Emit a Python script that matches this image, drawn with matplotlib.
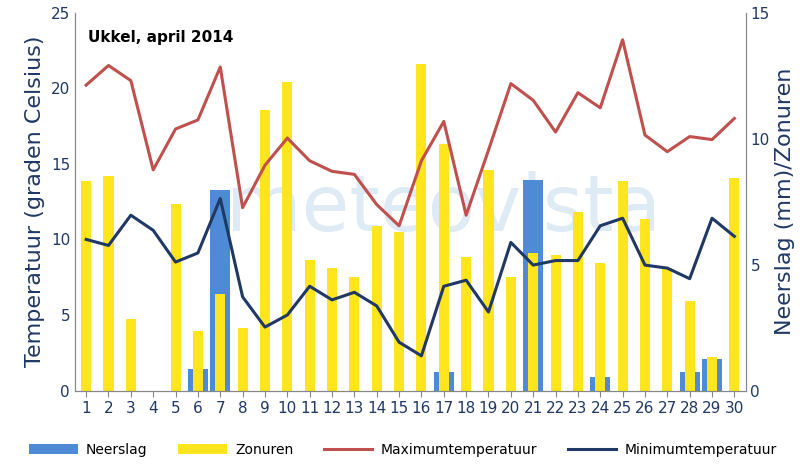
import numpy as np
import matplotlib.pyplot as plt

days = list(range(1, 31))
zonuren = [8.3, 8.5, 2.85, 0, 7.4, 2.35, 3.85, 2.5, 11.15, 12.25, 5.2, 4.85, 4.5, 6.55, 6.3,
           12.95, 9.8, 5.3, 8.75, 4.5, 5.45, 5.4, 7.1, 5.05, 8.3, 6.8, 4.85, 3.55, 1.35, 8.45]
neerslag = [0, 0, 0, 0, 0, 0.85, 7.95, 0, 0, 0, 0, 0, 0, 0, 0,
            0, 0.75, 0, 0, 0, 8.35, 0, 0, 0.55, 0, 0, 0, 0.75, 1.25, 0]
tmax = [20.2, 21.5, 20.5, 14.6, 17.3, 17.9, 21.4, 12.1, 14.9, 16.7, 15.2, 14.5, 14.3, 12.3, 10.9,
        15.2, 17.8, 11.6, 15.9, 20.3, 19.2, 17.1, 19.7, 18.7, 23.2, 16.9, 15.8, 16.8, 16.6, 18.0]
tmin = [10.0, 9.6, 11.6, 10.6, 8.5, 9.1, 12.7, 6.2, 4.2, 5.0, 6.9, 6.0, 6.5, 5.6, 3.2,
        2.3, 6.9, 7.3, 5.2, 9.8, 8.3, 8.6, 8.6, 10.9, 11.4, 8.3, 8.1, 7.4, 11.4, 10.2]

navy = "#1F3864"
fig = plt.figure(figsize=(8.06, 4.65), dpi=100)
ax = fig.add_axes([0.093, 0.16, 0.832, 0.813])
ax2 = ax.twinx()
ax.set_zorder(2); ax.patch.set_visible(False)
ax2.patch.set_visible(False)

x = np.array(days)
ax2.bar(x, neerslag, width=0.9, color="#4F8AD6", label="Neerslag", zorder=1)
ax2.bar(x, zonuren, width=0.45, color="#FFE51E", label="Zonuren", zorder=2)
ax.plot(x, tmax, color="#C0504D", lw=2.2, label="Maximumtemperatuur")
ax.plot(x, tmin, color=navy, lw=2.2, label="Minimumtemperatuur")

fig.text(0.55, 0.55, "meteovista", fontsize=56, color="#C8DCEE", alpha=0.6,
         ha="center", va="center", zorder=-5)

ax.set_xlim(0.5, 30.5)
ax.set_ylim(0, 25)
ax2.set_ylim(0, 15)
ax.set_xticks(days)
ax.set_yticks(range(0, 26, 5))
ax2.set_yticks([0, 5, 10, 15])
for a in (ax, ax2):
    a.tick_params(colors=navy, labelsize=11, length=0)
    a.spines["top"].set_visible(False)
    for s in ("left", "right", "bottom"):
        a.spines[s].set_color("#888888")
ax.tick_params(axis="x", length=4, colors="#888888", labelcolor=navy)
ax.set_ylabel("Temperatuur (graden Celsius)", fontsize=16, color=navy)
ax2.set_ylabel("Neerslag (mm)/Zonuren", fontsize=16, color=navy)
ax.text(0.02, 0.955, "Ukkel, april 2014", transform=ax.transAxes, fontsize=11,
        fontweight="bold", va="top")

h1, l1 = ax2.get_legend_handles_labels()
h2, l2 = ax.get_legend_handles_labels()
fig.legend(h1 + h2, l1 + l2, loc="lower center", ncol=4, frameon=False,
           fontsize=10, bbox_to_anchor=(0.5, -0.01), handlelength=3.5, columnspacing=2.2,
           handletextpad=0.6)
fig.savefig("out.png", dpi=100)
